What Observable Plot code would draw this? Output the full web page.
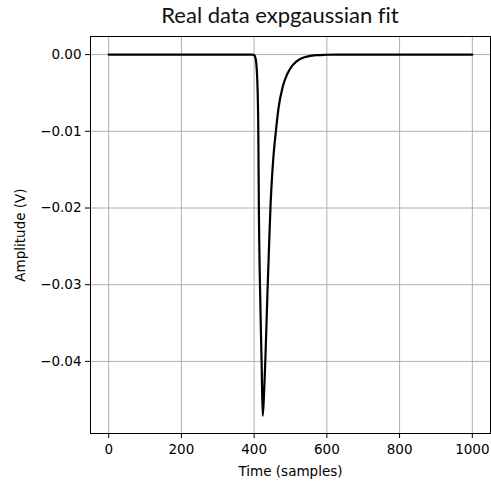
<!DOCTYPE html>
<html>
<head>
<meta charset="utf-8">
<script src="https://cdn.jsdelivr.net/npm/d3@7"></script>
<script src="https://cdn.jsdelivr.net/npm/@observablehq/plot@0.6"></script>
<style>
  html, body { margin: 0; padding: 0; background: #fff; }
  #wrap { position: relative; width: 491px; height: 482px; }
  #title { position: absolute; top: 0; left: 0; width: 560px; height: 30px; line-height: 30px;
           text-align: center; font-family: Lato, "Open Sans", sans-serif; font-size: 22px; color: #111;
           font-variant-ligatures: none; }
  #chart { position: absolute; top: 30px; left: 0; }
</style>
</head>
<body>
<div id="wrap">
  <div id="title">Real data expgaussian fit</div>
  <div id="chart"></div>
</div>
<script>
// Samples (time in samples, amplitude in volts)
const timeSamples = [0, 100, 200, 300, 395, 400, 404, 407, 409.5, 411.5, 413, 416, 420.5, 423.6,
                     427, 430.8, 436.8, 441, 445, 452, 460, 467.6, 478.6, 490.4, 506, 524, 542.6, 570, 600, 620, 700, 800, 900, 1000];
const amplitude   = [0, 0, 0, 0, 0, -0.00005, -0.0005, -0.0018, -0.0045, -0.0100, -0.0200, -0.0300, -0.0400, -0.0471,
                     -0.0445, -0.0399, -0.0308, -0.0250, -0.0198, -0.0140, -0.0099, -0.0068, -0.0042, -0.0026, -0.00138, -0.00064, -0.00029, -0.00008, -0.00002, 0, 0, 0, 0, 0];
const xTicks = [0, 200, 400, 600, 800, 1000];
const yTicks = [0, -0.01, -0.02, -0.03, -0.04];
const xLabel = "Time (samples)";
const yLabel = "Amplitude (V)";

const data = timeSamples.map((t, i) => ({t, a: amplitude[i]}));

const chart = Plot.plot({
  width: 491,
  height: 452,
  marginLeft: 90,
  marginRight: 1,
  marginTop: 6,
  marginBottom: 49,
  style: {fontFamily: "DejaVu Sans", fontSize: "13.5px", color: "#000", background: "#fff"},
  x: {domain: [-50, 1050]},
  y: {domain: [-0.0494, 0.00236]},
  marks: [
    Plot.gridX(xTicks, {stroke: "#b0b0b0", strokeOpacity: 1, strokeWidth: 1}),
    Plot.gridY(yTicks, {stroke: "#b0b0b0", strokeOpacity: 1, strokeWidth: 1}),
    Plot.line(data, {x: "t", y: "a", stroke: "#000", strokeWidth: 2.2, curve: "monotone-x"}),
    Plot.frame({stroke: "#000", strokeWidth: 1}),
    Plot.axisX(xTicks, {tickSize: 5, tickPadding: 6, tickFormat: d3.format("d"), label: xLabel, labelAnchor: "center", labelArrow: "none", labelOffset: 42}),
    Plot.axisY(yTicks, {tickSize: 5, tickPadding: 4, tickFormat: d3.format(".2f"), label: yLabel, labelAnchor: "center", labelArrow: "none", labelOffset: 75})
  ]
});
document.getElementById("chart").appendChild(chart);
</script>
</body>
</html>
